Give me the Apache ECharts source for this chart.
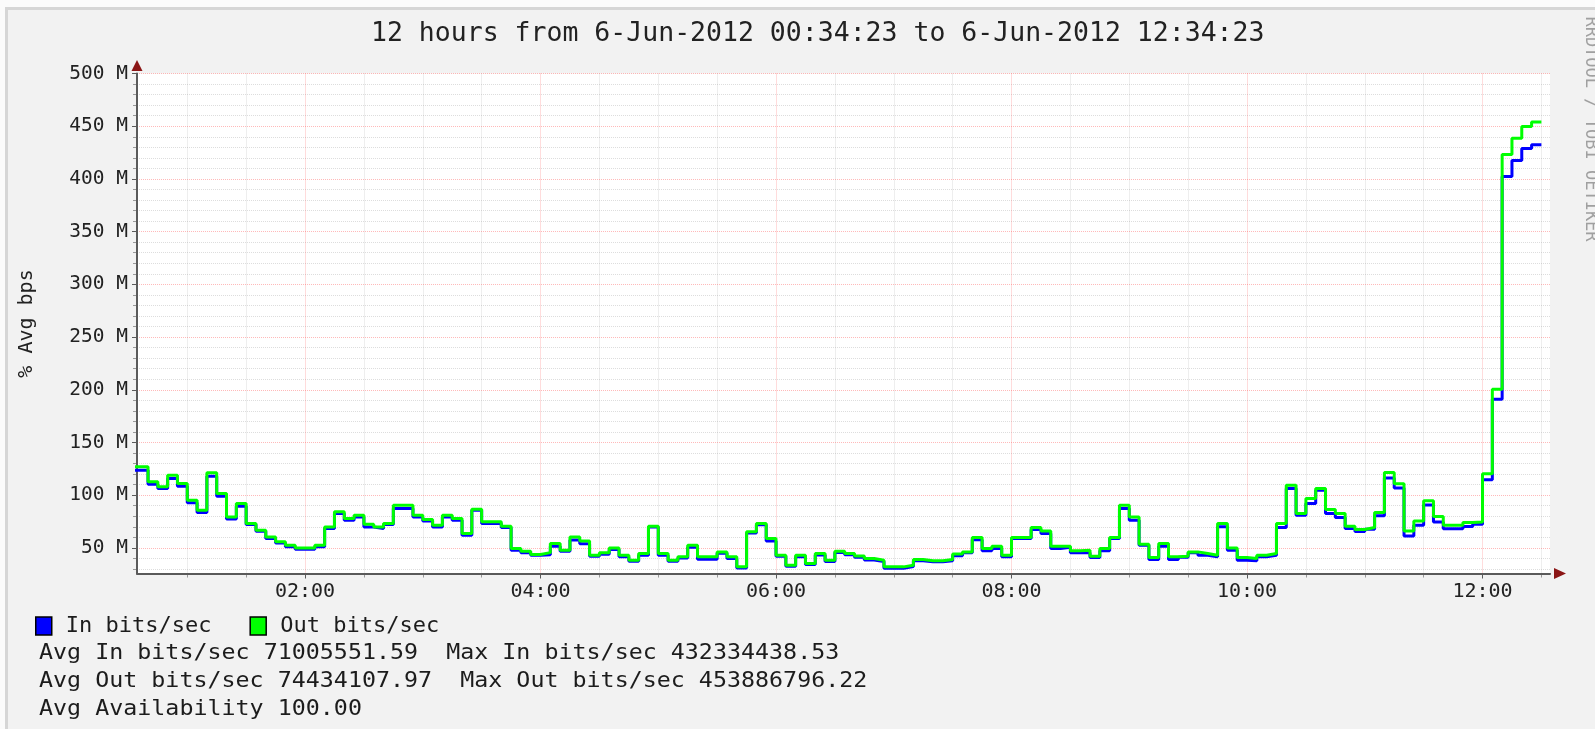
<!DOCTYPE html>
<html><head><meta charset="utf-8">
<script src="https://cdn.jsdelivr.net/npm/echarts@6/dist/echarts.min.js"></script>
<style>
html,body{margin:0;padding:0;width:1595px;height:729px;overflow:hidden;background:#fbfbfb;}
#panel{position:absolute;left:5px;top:7px;width:1620px;height:760px;box-sizing:border-box;border:3px solid #d6d6d6;background:#f2f2f2;}
#chart{position:absolute;left:0;top:0;width:1595px;height:729px;}
</style></head><body><div id="panel"></div><div id="chart"></div>
<script>
// ---------- data ----------
const titleText = '12 hours from 6-Jun-2012 00:34:23 to 6-Jun-2012 12:34:23';
const yAxisName = '% Avg bps';
const seriesNames = ['In bits/sec', 'Out bits/sec'];
const seriesColors = ['#0000ff', '#00ff00'];
const firstStepStart = '00:30';   // each value covers 5 minutes starting here
const stepMinutes = 5;
const viewStart = '00:34:23';
const viewEnd = '12:34:23';
const inMbps = [123.7, 123.7, 110.4, 106.3, 115.8, 108.5, 92.7, 83.5, 118, 99,
 77.5, 89.6, 72.2, 65.8, 58.9, 54.7, 51, 48.7, 48.7, 51,
 68.4, 82.6, 76.3, 79.4, 69.9, 68.4, 72.2, 87.3, 87.3, 79.4,
 75.6, 69.9, 79.4, 76.3, 62, 85.8, 73.1, 73.1, 69.3, 47.8,
 45.3, 43, 43.5, 51.5, 46.8, 57.5, 54, 42, 44, 48.5,
 41.5, 37.3, 43, 69.9, 43, 37.3, 40.3, 50.5, 39.2, 39.2,
 44.8, 40, 31, 64, 72, 56.6, 42, 32.5, 41.5, 34.2,
 43.3, 37.2, 45.6, 43.5, 41, 38.6, 37, 30.7, 30.7, 32.4,
 37.8, 36.8, 36.8, 37.8, 42.5, 45.3, 57.8, 47.2, 49.4, 41.5,
 58.9, 58.9, 67.4, 63.6, 49.4, 50.5, 45.3, 45.3, 40.8, 47.2,
 58.9, 87.3, 76.3, 52.5, 38.9, 51.6, 39, 41, 45.3, 43,
 41.5, 70, 47.8, 38.3, 37.7, 41.5, 43, 69.3, 106.3, 81,
 92, 104.7, 82.6, 78.9, 68.4, 65.5, 67.6, 80.4, 116.3, 106.7,
 61.2, 71.4, 90.7, 74.6, 68.2, 68.2, 70.2, 72.4, 114.7, 190.9,
 402.3, 417.4, 428.9, 432.3];
const outMbps = [127, 127, 112.7, 107.9, 119, 111, 95.3, 85.8, 121.2, 101.6,
 79.4, 92.1, 73.1, 66.8, 60.4, 55.7, 52.5, 50, 50, 52.5,
 69.9, 84.2, 77.8, 81, 72.5, 69.9, 73.1, 90.5, 90.5, 81,
 76.9, 71.5, 81, 77.8, 63.6, 86.7, 74.7, 74.7, 70.6, 49.4,
 46.8, 43.7, 45.5, 54.1, 47.8, 60.4, 56.6, 43, 45.3, 50,
 43, 38.3, 44.6, 70.6, 44.6, 38.3, 41.5, 52.5, 41.5, 41.5,
 46.2, 41.5, 32, 65.2, 73.1, 58.9, 43, 33.5, 43, 35.1,
 44.6, 38.3, 46.8, 44.6, 42.4, 39.9, 38.3, 32, 32, 33.5,
 38.9, 37.7, 37.7, 38.9, 44.3, 46.2, 59.8, 49.4, 51.6, 43,
 59.8, 59.8, 69.3, 66.1, 51.6, 51.6, 47.2, 47.8, 42.1, 49.4,
 59.8, 90.5, 79.4, 53.5, 40.8, 54.1, 41.5, 42.1, 46.2, 44.6,
 43, 73.1, 50, 40.8, 39.9, 43, 44.6, 73.1, 109.5, 82.6,
 96.8, 106.3, 86.4, 82.6, 70.6, 67.5, 69.3, 83.6, 121.4, 110.8,
 66, 75.6, 94.8, 79.8, 71.4, 71.4, 74, 74.6, 120.4, 200.5,
 423.1, 438.5, 449.7, 453.9];
const yMinM = 25.7;
const yMaxM = 500;
const yTickLabelsM = [50, 100, 150, 200, 250, 300, 350, 400, 450, 500];
const yMinorStepM = 10;
const xTickLabels = ['02:00', '04:00', '06:00', '08:00', '10:00', '12:00'];
const xMinorStepMin = 30;
const statLines = [
  'Avg In bits/sec 71005551.59  Max In bits/sec 432334438.53',
  'Avg Out bits/sec 74434107.97  Max Out bits/sec 453886796.22',
  'Avg Availability 100.00'
];
const watermark = 'RRDTOOL / TOBI OETIKER';

// ---------- build ----------
const MONO = '"DejaVu Sans Mono", monospace';
function toMin(s){const p=s.split(':').map(Number);return p[0]*60+p[1]+(p[2]||0)/60;}
const t0 = toMin(firstStepStart);
const xMin = toMin(viewStart), xMax = toMin(viewEnd);
function buildPoints(vals){
  const pts = vals.map((v,i)=>[t0+i*stepMinutes, v*1e6]);
  pts.push([t0+vals.length*stepMinutes, vals[vals.length-1]*1e6]);
  return pts;
}
const yMajor = yTickLabelsM.map(v=>v*1e6);
const yMinor = [];
for (let v = Math.ceil(yMinM/yMinorStepM)*yMinorStepM; v <= yMaxM; v += yMinorStepM) {
  if (yTickLabelsM.indexOf(v) < 0) yMinor.push(v*1e6);
}
const xMajor = xTickLabels.map(toMin);
const xMinor = [];
for (let m = Math.ceil(xMin/xMinorStepMin)*xMinorStepMin; m <= xMax; m += xMinorStepMin) {
  if (xMajor.indexOf(m) < 0) xMinor.push(m);
}
function pad(n){return (n<10?'0':'')+n;}
function fmtMin(m){m=Math.round(m);return pad(Math.floor(m/60))+':'+pad(m%60);}

const axisGray = '#5a5a5a';
const arrowRed = '#8b1515';
const majorGrid = 'rgba(255,70,70,0.38)';
const minorGrid = 'rgba(150,150,150,0.32)';
const hidden = {show:false};

const chart = echarts.init(document.getElementById('chart'), null, {renderer:'canvas'});
chart.setOption({
  animation: false,
  backgroundColor: 'transparent',
  title: {
    text: titleText, left: 371, top: 21, padding: 0,
    textStyle: {fontFamily: MONO, fontSize: 26.5, fontWeight: 'normal', color: '#222'}
  },
  legend: {
    data: seriesNames, left: 35, top: 615, orient: 'horizontal', padding: 0,
    icon: 'rect', itemWidth: 16, itemHeight: 18, itemGap: 38, selectedMode: false,
    itemStyle: {borderColor: '#000', borderWidth: 1.5},
    textStyle: {fontFamily: MONO, fontSize: 22, color: '#1c1c1c', padding: [0,0,0,9]}
  },
  grid: {left: 137, width: 1413, top: 73.5, height: 500, show: true, backgroundColor: '#ffffff',
         borderWidth: 0, containLabel: false, outerBoundsMode: 'none'},
  xAxis: [
    {type:'value', min:xMin, max:xMax, position:'bottom', z:2,
     axisLine:{show:true, onZero:false, lineStyle:{color:axisGray, width:2}},
     axisTick:{show:true, customValues:xMajor, length:5, lineStyle:{color:axisGray, width:1}},
     axisLabel:{show:true, customValues:xMajor, formatter:fmtMin, fontFamily:MONO, fontSize:20, color:'#222', margin:8},
     splitLine:{show:true, lineStyle:{color:majorGrid, type:'dotted', width:1}}},
    {type:'value', min:xMin, max:xMax, position:'bottom', z:1,
     axisLine:hidden, axisLabel:hidden,
     axisTick:{show:true, customValues:xMinor, length:4, lineStyle:{color:'#999', width:1}},
     splitLine:{show:true, lineStyle:{color:minorGrid, type:'dotted', width:1}}},
    {type:'value', min:xMin, max:xMax, position:'bottom', z:0,
     axisLine:{show:true, onZero:false, symbol:['none','triangle'], symbolSize:[11,12], symbolOffset:[0,10],
               lineStyle:{color:arrowRed, width:1}},
     axisTick:hidden, axisLabel:hidden, splitLine:hidden}
  ],
  yAxis: [
    {type:'value', min:yMinM*1e6, max:yMaxM*1e6, position:'left', z:2,
     name: yAxisName, nameLocation:'middle', nameRotate:90, nameGap:100,
     nameTextStyle:{fontFamily:MONO, fontSize:20, color:'#222'},
     axisLine:{show:true, onZero:false, lineStyle:{color:axisGray, width:2}},
     axisTick:{show:true, customValues:yMajor, length:5, lineStyle:{color:axisGray, width:1}},
     axisLabel:{show:true, customValues:yMajor, formatter:v=>Math.round(v/1e6)+' M',
                fontFamily:MONO, fontSize:19.5, color:'#222', margin:9},
     splitLine:{show:true, lineStyle:{color:majorGrid, type:'dotted', width:1}}},
    {type:'value', min:yMinM*1e6, max:yMaxM*1e6, position:'left', z:1,
     axisLine:hidden, axisLabel:hidden,
     axisTick:{show:true, customValues:yMinor, length:4, lineStyle:{color:'#999', width:1}},
     splitLine:{show:true, lineStyle:{color:minorGrid, type:'dotted', width:1}}},
    {type:'value', min:yMinM*1e6, max:yMaxM*1e6, position:'left', z:0,
     axisLine:{show:true, onZero:false, symbol:['none','triangle'], symbolSize:[11,11], symbolOffset:[0,8],
               lineStyle:{color:arrowRed, width:1}},
     axisTick:hidden, axisLabel:hidden, splitLine:hidden}
  ],
  series: [
    {name: seriesNames[0], type:'line', step:'end', data: buildPoints(inMbps), showSymbol:false, symbol:'none',
     clip:true, lineStyle:{color:seriesColors[0], width:3}, itemStyle:{color:seriesColors[0]}, z:3},
    {name: seriesNames[1], type:'line', step:'end', data: buildPoints(outMbps), showSymbol:false, symbol:'none',
     clip:true, lineStyle:{color:seriesColors[1], width:3}, itemStyle:{color:seriesColors[1]}, z:4}
  ],
  graphic: statLines.map((t,i)=>({
    type:'text', x:39, y:653 + i*28, scaleX:1.06,
    style:{text:t, font:'22px ' + MONO, fill:'#1c1c1c', textAlign:'left', textVerticalAlign:'middle', verticalAlign:'middle'}
  })).concat([{
    type:'text', x:1590, y:129, rotation:-Math.PI/2,
    style:{text:watermark, font:'17px ' + MONO, fill:'#a0a0a0', textAlign:'center', verticalAlign:'middle', textVerticalAlign:'middle'}
  }])
});
</script>
</body></html>
